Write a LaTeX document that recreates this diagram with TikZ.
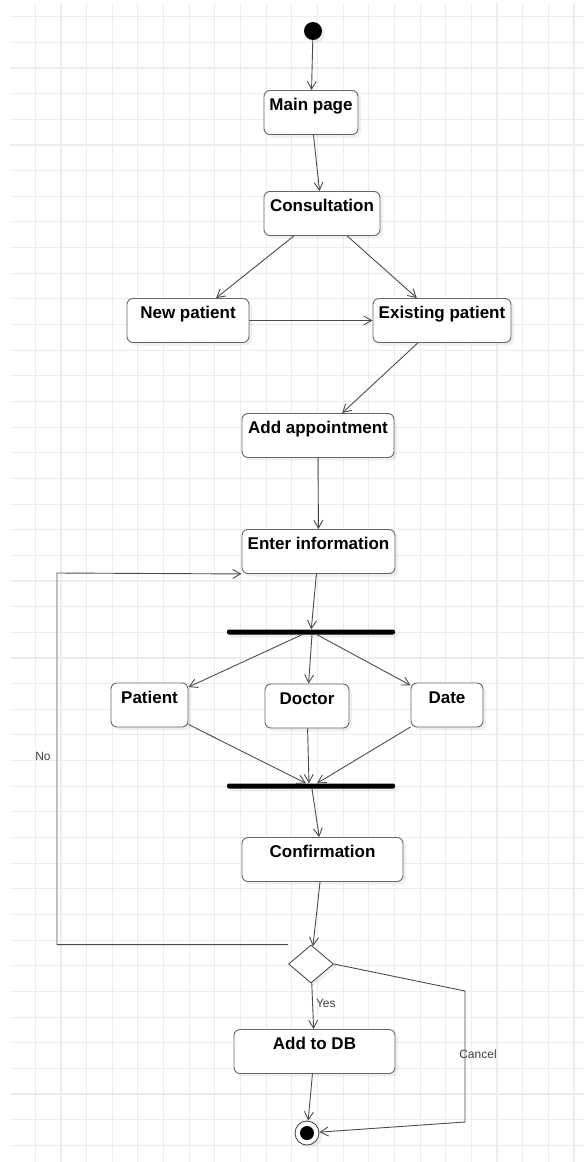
\documentclass[tikz,border=0pt]{standalone}
\usepackage{fontspec}
\setmainfont{Liberation Sans}
\usetikzlibrary{shapes,shapes.geometric,arrows.meta,shadows}
\tikzset{
	grid_l/.style = {draw=black!7, line width=1.1pt},
	shdw/.style = {drop shadow={shadow xshift=3pt, shadow yshift=-3pt, opacity=0.12}},
	act_n/.style = {draw=black!60, line width=0.9pt, fill=white, rounded corners=6pt, shdw,
		font=\bfseries\fontsize{17}{20}\selectfont, text height=16pt, text depth=20pt, inner ysep=4pt, inner xsep=2pt},
	bar_n/.style = {fill=black, rounded corners=2pt, minimum width=168, minimum height=5, inner sep=0pt, shdw},
	init_n/.style = {circle, fill=black, minimum size=18, inner sep=0pt, shdw},
	fin_n/.style = {circle, draw=black!70, line width=0.9pt, fill=white, minimum size=24, inner sep=0pt, shdw,
		path picture={\fill[black] (path picture bounding box.center) circle (7pt);}},
	dec_n/.style = {diamond, draw=black!70, line width=0.9pt, fill=white, minimum width=45, minimum height=38, inner sep=0pt, shdw},
	lbl_n/.style = {font=\fontsize{12}{14}\selectfont, text=black!75, inner sep=1pt},
	flow/.style = {draw=black!70, line width=0.9pt, -{Straight Barb[length=8pt,width=9pt]}}
}

\begin{document}
\begin{tikzpicture}[x=1pt, y=-1pt]
	\useasboundingbox[fill=white] (0,0) rectangle (584,1162);
	\foreach \i in {0,...,21}
		\draw[grid_l] ({35.3+25.65*\i},3) -- ({35.3+25.65*\i},1162);
	\foreach \j in {0,...,44}
		\draw[grid_l] (10,{16.7+25.65*\j}) -- (584,{16.7+25.65*\j});

	\node[init_n] (start) at (313,31) {};
	\node[act_n, minimum width=94] (main) at (311,112.5) {Main page};
	\node[act_n, minimum width=116] (consult) at (322,213.5) {Consultation};
	\node[act_n, minimum width=122] (newp) at (188,320.5) {New patient};
	\node[act_n, minimum width=138] (exist) at (442,320.5) {Existing patient};
	\node[act_n, minimum width=152] (addapp) at (318,435.5) {Add appointment};
	\node[act_n, minimum width=153] (enter) at (318.5,551.5) {Enter information};
	\node[bar_n] (fork) at (311,632) {};
	\node[act_n, minimum width=77] (patient) at (149.5,705) {Patient};
	\node[act_n, minimum width=84] (doctor) at (307,706) {Doctor};
	\node[act_n, minimum width=72] (date) at (447,705) {Date};
	\node[bar_n] (join) at (311,786) {};
	\node[act_n, minimum width=161] (confirm) at (322.5,859.5) {Confirmation};
	\node[dec_n] (dec) at (311,964) {};
	\node[act_n, minimum width=161] (adddb) at (314.5,1051.5) {Add to DB};
	\node[fin_n] (end) at (307,1133) {};

	\coordinate (nobend) at (57,573);
	\coordinate (cbend1) at (465,991);
	\coordinate (cbend2) at (465,1122);

	\draw[flow] (start) -- (main);
	\draw[flow] (main) -- (consult);
	\draw[flow] (consult) -- (newp);
	\draw[flow] (consult) -- (exist);
	\draw[flow] (newp) -- (exist);
	\draw[flow] (exist) -- (addapp);
	\draw[flow] (addapp) -- (enter);
	\draw[flow] (enter) -- (fork);
	\draw[flow] ([xshift=-9pt]fork.south) -- (patient);
	\draw[flow] ([xshift=1pt]fork.south) -- (doctor);
	\draw[flow] ([xshift=6pt]fork.south) -- (date);
	\draw[flow] (patient) -- ([xshift=-5pt]join.north);
	\draw[flow] (doctor) -- ([xshift=-2pt]join.north);
	\draw[flow] (date) -- ([xshift=6pt]join.north);
	\draw[flow] ([xshift=1pt]join.south) -- (confirm);
	\draw[flow] (confirm) -- (dec);
	\draw[flow] (dec) -- node[lbl_n, right, xshift=2pt, pos=0.45] (yes) {Yes} (adddb);
	\draw[flow] (adddb) -- (end);
	\draw[flow] (dec.west |- dec.north) -| (nobend) -- (enter.south west);
	\draw[flow] (dec.east) -- (cbend1) -- (cbend2) -- (end);
	\node[lbl_n] (no) at (43,756) {No};
	\node[lbl_n] (cancel) at (478,1054) {Cancel};
\end{tikzpicture}
\end{document}
